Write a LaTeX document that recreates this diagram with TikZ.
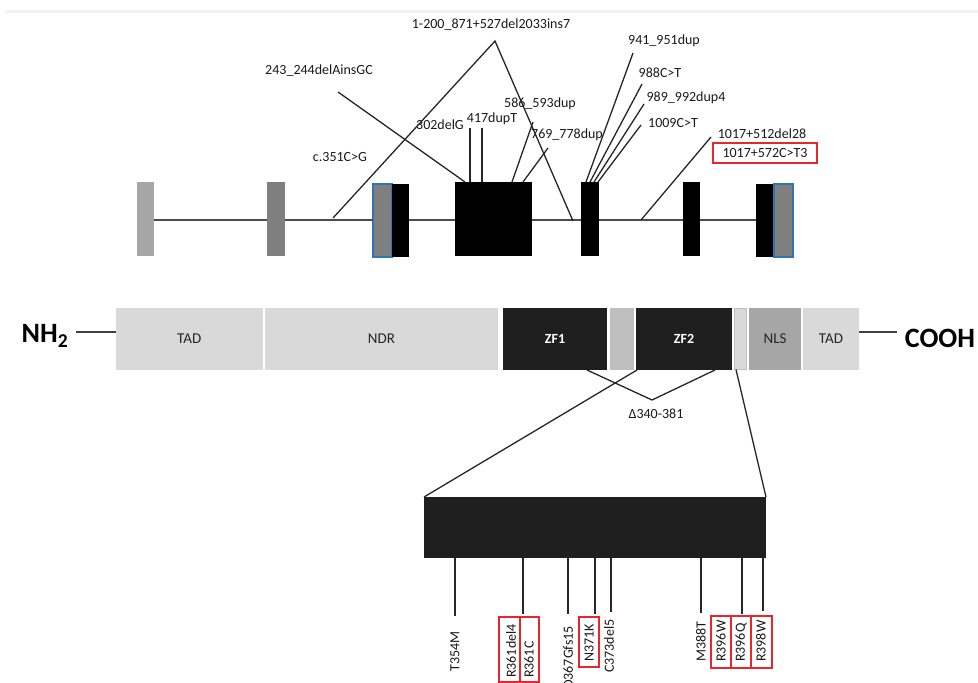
\documentclass[tikz,border=0pt]{standalone}
\usepackage{fontspec}
\setmainfont{Carlito}
\definecolor{exA}{HTML}{A6A6A6}
\definecolor{exB}{HTML}{7F7F7F}
\definecolor{exBlue}{HTML}{2E75B6}
\definecolor{pLight}{HTML}{D9D9D9}
\definecolor{pMid}{HTML}{BFBFBF}
\definecolor{pDark}{HTML}{1F1F1F}
\definecolor{pNLS}{HTML}{A6A6A6}
\definecolor{redbox}{HTML}{E8262B}
\begin{document}
\begin{tikzpicture}[x=1pt,y=-1pt,
  font=\fontsize{14}{16}\selectfont,
  blk/.style={rectangle, draw=none, inner sep=0pt, outer sep=0pt, anchor=north west},
  lbl/.style={inner sep=0pt, text=black!90},
  vlbl/.style={inner sep=0pt, rotate=90, anchor=west, text=black!90},
  conn/.style={line width=1.3pt, draw=black!85},
  intron/.style={line width=1.7pt, draw=black!70},
  rbox/.style={rectangle, draw=redbox, line width=1.4pt, inner sep=0pt, outer sep=0pt, anchor=north west},
  plab/.style={inner sep=0pt, text=black!85, font=\fontsize{15}{17}\selectfont},
  zlab/.style={inner sep=0pt, text=white, font=\fontsize{14}{16}\selectfont\bfseries},
  big/.style={inner sep=0pt, font=\fontsize{28}{30}\selectfont\bfseries}]
\useasboundingbox (0,0) rectangle (978,683);
\draw[line width=3pt, draw=black!5] (5,11) -- (978,11);

% ---------------- gene structure ----------------
\node[blk, fill=exA, minimum width=17pt, minimum height=74pt] (e1) at (137,182) {};
\node[blk, fill=exB, minimum width=18pt, minimum height=74pt] (e2) at (267,182) {};
\node[blk, fill=exB, draw=exBlue, line width=1.2pt, minimum width=19pt, minimum height=73pt] (e3a) at (373,184) {};
\node[blk, fill=black, minimum width=17pt, minimum height=73pt] (e3b) at (392,184) {};
\node[blk, fill=black, minimum width=77pt, minimum height=74pt] (e4) at (455,182) {};
\node[blk, fill=black, minimum width=18pt, minimum height=74pt] (e5) at (581,182) {};
\node[blk, fill=black, minimum width=17pt, minimum height=74pt] (e6) at (683,182) {};
\node[blk, fill=black, minimum width=18pt, minimum height=73pt] (e7a) at (756,184) {};
\node[blk, fill=exB, draw=exBlue, line width=1.2pt, minimum width=19pt, minimum height=73pt] (e7b) at (774,184) {};

\coordinate (i12) at (154,220);
\draw[intron] (e1.east |- i12) -- (e2.west |- i12);
\draw[intron] (e2.east |- i12) -- (e3a.west |- i12);
\draw[intron] (e3b.east |- i12) -- (e4.west |- i12);
\draw[intron] (e4.east |- i12) -- (e5.west |- i12);
\draw[intron] (e5.east |- i12) -- (e6.west |- i12);
\draw[intron] (e6.east |- i12) -- (e7a.west |- i12);

% labels
\node[lbl] (l1) at (491,25) {1-200\_871+527del2033ins7};
\node[lbl] (l243) at (319,71) {243\_244delAinsGC};
\node[lbl] (l351) at (340,157) {c.351C>G};
\node[lbl] (l302) at (440,125) {302delG};
\node[lbl] (l417) at (492,119) {417dupT};
\node[lbl] (l586) at (540,104) {586\_593dup};
\node[lbl] (l769) at (567,135) {769\_778dup};
\node[lbl] (l941) at (664,41) {941\_951dup};
\node[lbl] (l988) at (660,73) {988C>T};
\node[lbl] (l989) at (686,98) {989\_992dup4};
\node[lbl] (l1009) at (673,123) {1009C>T};
\node[lbl] (l1017a) at (762,134) {1017+512del28};
\node[lbl] (l1017b) at (765,153) {1017+572C>T3};
\node[rbox, minimum width=104pt, minimum height=20pt] (r1017) at (713,143) {};

% connectors
\coordinate (apex) at (495,41);
\coordinate (tl) at (333,218);
\coordinate (tr) at (573,221);
\draw[conn] (tl) -- (apex) -- (tr);
\coordinate (c243) at (338,92);
\draw[conn] (c243) -- ([xshift=10pt]e4.north west);
\draw[conn] ([xshift=15pt]e4.north west) -- ++(0,-54);
\draw[conn] ([xshift=27pt]e4.north west) -- ++(0,-54);
\coordinate (c586) at (533,122);
\draw[conn] (c586) -- ([xshift=57pt]e4.north west);
\coordinate (c769) at (548,148);
\draw[conn] (c769) -- ([xshift=68pt]e4.north west);
\coordinate (c941) at (633,53);
\coordinate (c988) at (642,84);
\coordinate (c989) at (644,104);
\coordinate (c1009) at (641,125);
\draw[conn] (c941) -- ([xshift=5pt]e5.north west);
\draw[conn] (c988) -- ([xshift=9pt]e5.north west);
\draw[conn] (c989) -- ([xshift=13pt]e5.north west);
\draw[conn] (c1009) -- ([xshift=17pt]e5.north west);
\coordinate (c1017) at (711,137);
\coordinate (i1017) at (641,220);
\draw[conn] (c1017) -- (i1017);

% ---------------- protein ----------------
\node[blk, fill=pLight, minimum width=147.5pt, minimum height=62pt] (tad1) at (115.5,308) {};
\node[blk, fill=pLight, minimum width=233pt, minimum height=62pt] (ndr) at (265,308) {};
\node[blk, fill=pDark, minimum width=104pt, minimum height=62pt] (zf1) at (503,308) {};
\node[blk, fill=pMid, minimum width=24pt, minimum height=62pt] (sp) at (610,308) {};
\node[blk, fill=pDark, minimum width=96pt, minimum height=62pt] (zf2) at (636,308) {};
\node[blk, fill=pLight, draw=black!25, line width=0.6pt, minimum width=12pt, minimum height=61pt] (sm) at (734,308.5) {};
\node[blk, fill=pNLS, minimum width=52pt, minimum height=62pt] (nls) at (749,308) {};
\node[blk, fill=pLight, minimum width=56pt, minimum height=62pt] (tad2) at (803,308) {};

\node[plab] at (tad1.center) {TAD};
\node[plab] at (ndr.center) {NDR};
\node[zlab] at (zf1.center) {ZF1};
\node[zlab] at (zf2.center) {ZF2};
\node[plab] at (nls.center) {NLS};
\node[plab] at (tad2.center) {TAD};

\node[big] (nh) at (45,336) {NH\textsubscript{2}};
\node[big] (cooh) at (940,338) {COOH};
\coordinate (nhl) at (76,332);
\draw[conn, draw=black!75] (nhl) -- (nhl -| tad1.west);
\coordinate (chl) at (897,332);
\draw[conn, draw=black!75] (chl -| tad2.east) -- (chl);

% delta 340-381
\coordinate (vb) at (652,400);
\draw[conn] ([xshift=-20pt]zf1.south east) -- (vb) -- ([xshift=-17pt]zf2.south east);
\node[lbl] (ldel) at (656,414) {Δ340-381};

% zoom box
\node[blk, fill=pDark, minimum width=342pt, minimum height=61pt] (zb) at (424,497) {};
\draw[conn] ([xshift=1pt]zf2.south west) -- (zb.north west);
\draw[conn] ([xshift=2pt]sm.south west) -- (zb.north east);

% ticks
\coordinate (t1) at (455,616);
\coordinate (t2) at (523,614);
\coordinate (t3) at (568,614);
\coordinate (t4) at (595,614);
\coordinate (t5) at (611,612);
\coordinate (t6) at (701,613);
\coordinate (t7) at (742,614);
\coordinate (t8) at (763,611);
\foreach \t in {t1,t2,t3,t4,t5,t6,t7,t8}
  \draw[conn] (zb.south -| \t) -- (\t);

% rotated labels
\node[vlbl] (v1) at (455,672) {T354M};
\node[vlbl] (v2) at (511,678) {R361del4};
\node[vlbl] (v3) at (529,678) {R361C};
\node[vlbl] (v4) at (568,689) {D367Gfs15};
\node[vlbl] (v5) at (589,662) {N371K};
\node[vlbl] (v6) at (609,673) {C373del5};
\node[vlbl] (v7) at (701,662) {M388T};
\node[vlbl] (v8) at (721,662) {R396W};
\node[vlbl] (v9) at (741,662) {R396Q};
\node[vlbl] (v10) at (761,662) {R398W};

\node[rbox, minimum width=21pt, minimum height=65pt] at (499,617) {};
\node[rbox, minimum width=19pt, minimum height=65pt] at (520,617) {};
\node[rbox, minimum width=20pt, minimum height=50pt] at (579,617) {};
\node[rbox, minimum width=20pt, minimum height=52pt] at (711,616) {};
\node[rbox, minimum width=20pt, minimum height=52pt] at (731,616) {};
\node[rbox, minimum width=21pt, minimum height=52pt] at (751,616) {};
\end{tikzpicture}
\end{document}
